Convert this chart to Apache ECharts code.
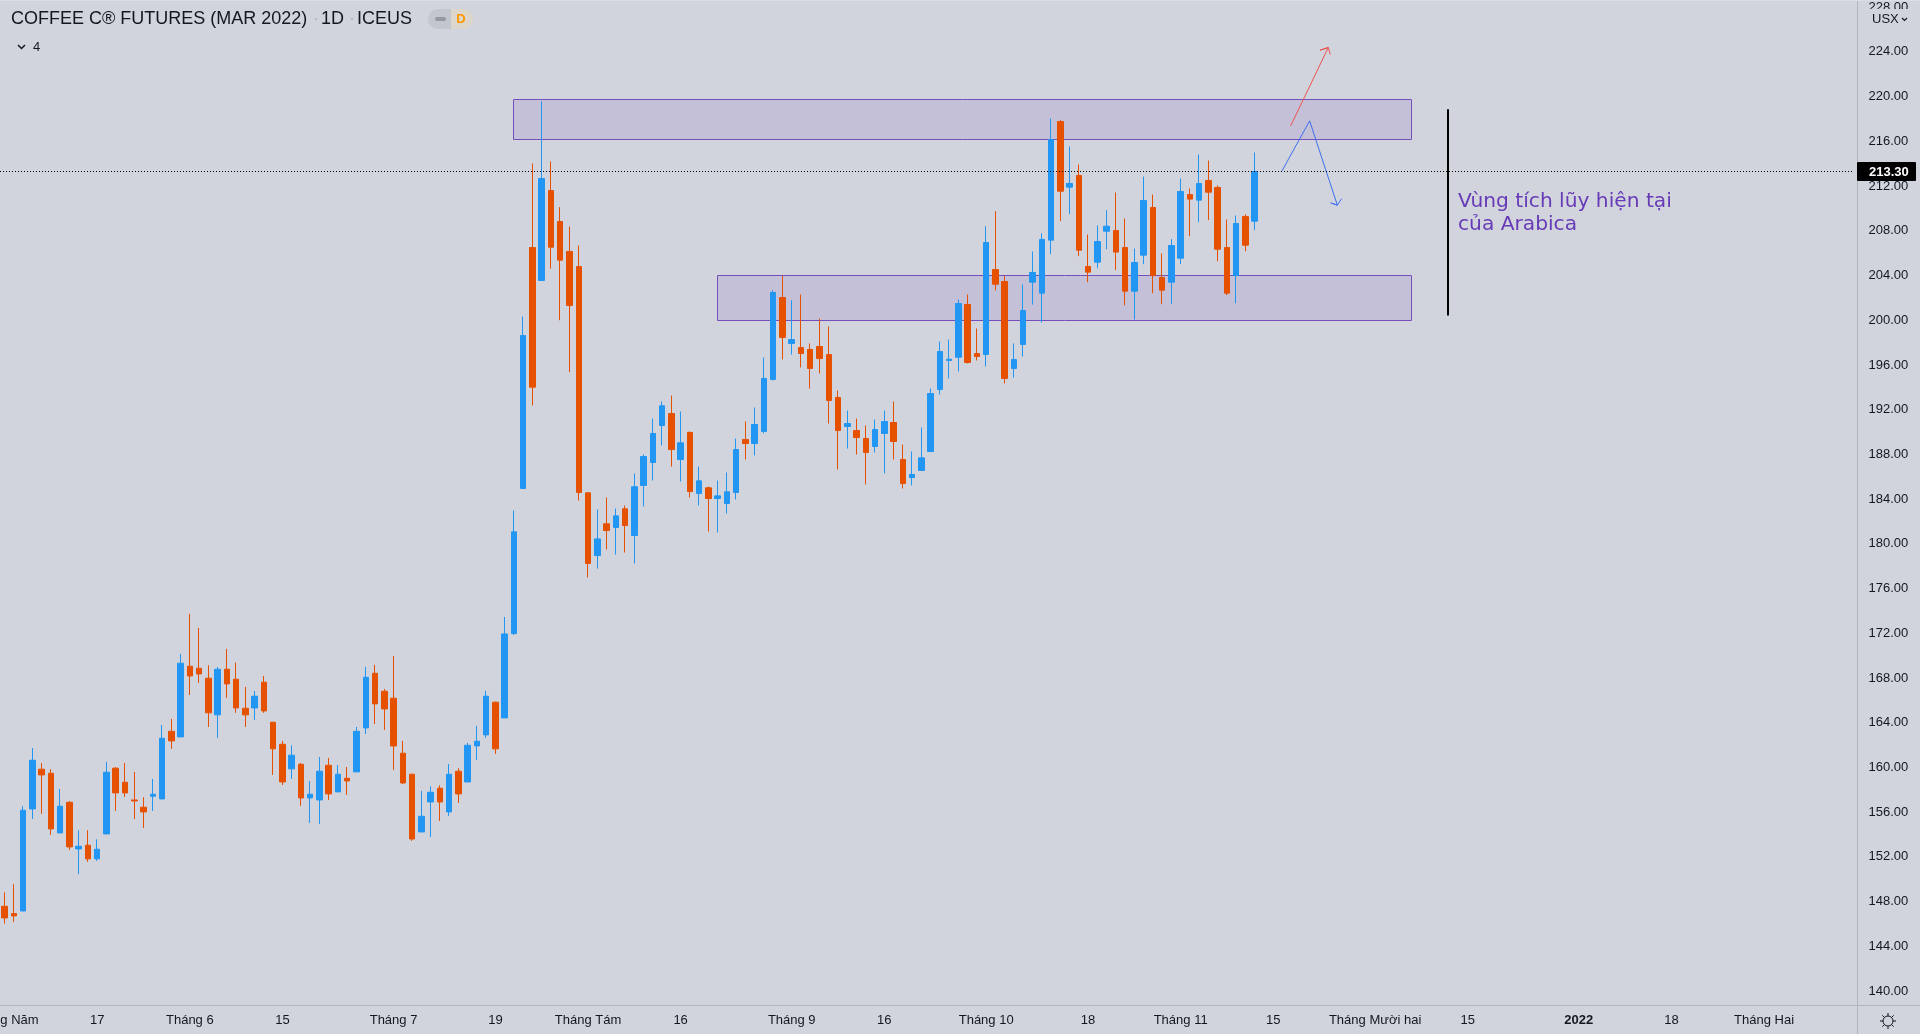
<!DOCTYPE html>
<html>
<head>
<meta charset="utf-8">
<title>Coffee C Futures</title>
<script src="https://cdn.jsdelivr.net/npm/echarts@6/dist/echarts.min.js"></script>
<style>html,body{margin:0;padding:0;background:#d1d4dc}#c{width:1920px;height:1034px}</style>
</head>
<body>
<div id="c"></div>
<script>
const opens = [147.58,146.93,147.16,156.29,159.84,159.48,154.14,156.88,152.71,153.04,
151.82,154.05,159.93,158.67,157.09,156.44,157.42,157.18,163.23,162.73,
169.05,168.87,167.98,164.70,168.78,167.89,165.29,165.32,167.62,164.04,
162.07,159.87,160.28,157.27,157.09,160.19,157.81,159.03,159.60,163.53,
168.42,166.81,166.19,161.27,159.39,154.23,156.91,158.14,156.02,159.66,
158.70,161.92,162.91,165.83,164.43,171.97,184.95,206.50,203.55,211.60,
208.83,206.15,204.80,184.56,178.95,181.79,181.46,183.13,180.74,185.22,
187.27,190.58,191.65,187.54,189.96,184.50,185.01,184.05,183.60,184.59,
189.33,188.97,190.05,194.70,202.03,197.92,197.56,197.38,197.65,196.93,
193.09,190.49,190.13,189.42,188.70,189.87,190.85,187.54,185.93,186.56,
188.26,193.80,196.40,196.69,201.40,197.02,196.93,204.53,203.46,195.68,
197.83,203.40,202.42,207.16,217.77,211.90,212.94,204.80,205.19,207.96,
208.02,206.50,202.60,205.82,210.08,203.82,203.40,205.55,211.24,210.74,
212.50,211.87,206.50,203.99,209.28,208.86];
const closes = [146.54,146.72,156.17,160.64,159.33,154.50,156.53,152.89,152.95,151.82,
152.68,159.57,157.72,157.72,157.00,156.02,157.60,162.61,162.37,169.32,
168.18,168.36,164.88,168.78,167.47,165.32,164.70,166.37,165.05,161.66,
158.70,161.09,157.27,157.60,159.66,157.63,159.39,158.79,163.23,168.06,
165.68,165.23,161.92,158.61,153.60,155.63,157.78,156.91,159.39,157.63,
161.98,162.34,166.37,161.66,171.94,181.07,198.63,194.01,212.67,206.53,
205.37,201.31,184.59,178.24,180.44,181.19,182.50,181.64,185.10,187.81,
189.87,192.34,188.43,189.03,184.68,185.63,184.05,184.29,184.65,188.43,
188.97,190.67,194.79,202.48,198.45,198.27,197.02,195.68,196.57,192.82,
190.13,190.76,189.51,188.17,190.22,190.94,189.15,185.39,186.20,187.69,
193.44,197.20,196.51,201.49,196.22,196.75,206.95,203.22,194.79,196.48,
200.87,204.27,207.22,216.16,211.54,212.23,206.26,204.30,207.04,208.41,
206.09,202.60,205.16,210.71,203.99,202.69,206.68,211.51,210.83,212.23,
211.45,206.35,202.42,208.65,206.71,213.30];
const lows = [146.03,146.18,147.16,155.39,155.84,153.96,154.14,152.62,150.47,151.55,
151.64,154.05,156.11,157.36,155.39,154.59,156.11,157.18,161.66,162.73,
166.48,167.56,163.62,162.64,166.22,164.88,163.62,164.25,164.88,159.33,
158.43,158.97,156.56,155.04,154.95,157.09,157.81,157.54,159.60,162.99,
163.89,163.35,159.78,158.52,153.43,154.23,153.78,155.21,155.66,156.82,
158.70,160.67,162.64,161.21,164.43,171.85,184.95,192.37,203.55,204.62,
200.00,195.35,183.87,176.99,177.79,179.49,179.04,179.22,178.24,183.34,
185.66,188.79,186.91,185.57,184.14,183.43,181.10,181.01,182.71,183.96,
187.54,187.90,189.87,194.61,196.49,196.93,195.77,193.89,195.23,190.76,
186.65,188.52,187.99,185.31,188.17,186.29,187.54,184.95,185.22,186.56,
188.26,193.35,194.79,195.41,196.13,196.40,195.86,202.66,194.34,194.87,
196.75,201.40,199.79,205.91,208.86,209.48,205.73,203.40,204.65,206.35,
204.48,201.34,200.06,205.01,202.42,201.43,201.43,205.01,207.52,208.77,
208.95,205.28,202.24,201.52,206.17,208.05];
const highs = [148.83,149.55,156.53,161.74,160.40,159.84,158.08,156.98,154.38,154.38,
153.57,160.49,160.04,160.40,159.60,157.33,158.97,163.80,164.34,170.15,
173.73,172.48,169.14,168.99,170.60,169.38,167.20,166.84,168.18,164.07,
162.37,161.98,160.40,158.79,160.94,160.85,160.22,160.04,163.62,168.99,
169.17,167.02,169.97,162.37,159.42,157.90,158.31,158.40,160.31,159.93,
162.19,163.71,166.84,165.89,173.46,182.98,200.33,214.02,219.59,214.20,
210.11,208.38,206.68,184.59,183.07,184.14,183.16,183.43,186.29,187.99,
191.21,192.73,193.26,191.83,190.05,186.91,185.13,185.66,186.38,189.42,
190.94,192.19,196.66,202.69,203.97,201.79,202.30,197.92,200.15,199.44,
193.71,191.92,191.21,190.58,191.12,191.92,192.73,188.88,188.26,190.40,
193.89,198.09,198.27,201.85,202.30,199.26,208.41,209.75,203.97,197.92,
203.19,206.15,207.76,218.04,217.89,215.54,213.93,207.67,208.47,209.84,
211.42,209.10,206.41,212.85,211.24,205.97,207.25,212.67,211.78,214.82,
214.28,212.05,209.01,209.37,209.46,215.00];

const barSlots = 200;
const xTickIndex = [0,10,20,30,42,53,63,73,85,95,106,117,127,137,148,158,170,180,190];
const xTickLabels = ['Tháng Năm','17','Tháng 6','15','Tháng 7','19','Tháng Tám','16','Tháng 9','16','Tháng 10','18','Tháng 11','15','Tháng Mười hai','15','2022','18','Tháng Hai'];
const yTicks = [140,144,148,152,156,160,164,168,172,176,180,184,188,192,196,200,204,208,212,216,220,224,228];
const lastPrice = 213.30;

// Drawn annotations, in [bar index, price]
const zones = [[54.93,151.95,219.75,216.2],[76.96,151.95,204.03,200.0]];
const redArrow = [[138.88,217.38],[142.94,224.39],[142.05,224.15],[142.94,224.39],[143.16,223.76]];
const blueArrow = [[137.94,213.35],[140.93,217.83],[143.92,210.29],[143.21,210.49],[143.92,210.29],[144.39,210.88]];
const rangeLine = [[155.87,218.87],[155.87,200.42]];
const priceLine = [[-0.5,lastPrice],[199.8,lastPrice]];

const BG='#d1d4dc', INK='#131722', GRID='#b2b5be', UP='#2196f3', DOWN='#e65100', PURPLE='#673ab7';
const categories = Array.from({length:barSlots},(_,i)=>String(i));
const candles = opens.map((o,i)=>[o,closes[i],lows[i],highs[i]]);
const tickAt = {}; xTickIndex.forEach((t,i)=>tickAt[t]=xTickLabels[i]);

const chart = echarts.init(document.getElementById('c'),null,{renderer:'canvas'});
const font13 = '13px "Liberation Sans", Arial, sans-serif';
const head = '18px "Liberation Sans", Arial, sans-serif';
const gearC=[1888,1021];
const spokes=[0,1,2,3,4,5,6,7].map(k=>{const a=k*Math.PI/4;return {type:'line',silent:true,shape:{x1:gearC[0]+5*Math.cos(a),y1:gearC[1]+5*Math.sin(a),x2:gearC[0]+8*Math.cos(a),y2:gearC[1]+8*Math.sin(a)},style:{stroke:INK,lineWidth:1},z:20};});

const option = {
  animation:false,
  backgroundColor:BG,
  title:{text:'COFFEE C® FUTURES (MAR 2022)',left:11,top:10,padding:0,textStyle:{color:INK,fontSize:18,fontWeight:'normal',fontFamily:'"Liberation Sans", Arial, sans-serif'}},
  grid:{left:0,top:0,width:1852,height:1005,containLabel:false,outerBoundsMode:'none'},
  xAxis:[
    {type:'category',data:categories,boundaryGap:true,axisLine:{show:false},axisTick:{show:false},splitLine:{show:false},
     axisLabel:{interval:(i)=>tickAt[i]!==undefined,hideOverlap:false,showMinLabel:true,margin:9,color:INK,fontSize:13,fontFamily:'"Liberation Sans", Arial, sans-serif',
       formatter:(v,i)=>{const t=tickAt[i];return t==='2022'?'{b|2022}':(t||'');},
       rich:{b:{fontWeight:'bold',fontSize:13,color:INK,fontFamily:'"Liberation Sans", Arial, sans-serif'}}}},
    {type:'value',min:-0.5,max:199.5,show:false}
  ],
  yAxis:{type:'value',position:'right',offset:5.5,min:138.75,max:228.64,scale:true,
    axisLine:{show:false},axisTick:{show:false},splitLine:{show:false},
    axisLabel:{customValues:yTicks,margin:11,color:INK,fontSize:13,fontFamily:'"Liberation Sans", Arial, sans-serif',formatter:(v)=>v.toFixed(2)}},
  series:[
    {type:'custom',name:'Zones',xAxisIndex:1,yAxisIndex:0,z:1,silent:true,clip:false,data:zones,encode:{x:[0,1],y:[2,3]},
     renderItem:(p,api)=>{const a=api.coord([api.value(0),api.value(2)]),b=api.coord([api.value(1),api.value(3)]);
       return {type:'rect',shape:{x:Math.round(a[0])+.5,y:Math.round(a[1])+.5,width:Math.round(b[0]-a[0]),height:Math.round(b[1]-a[1])},style:{fill:'rgba(103,58,183,0.13)',stroke:'#7550bd',lineWidth:1}};}},
    {type:'candlestick',name:'Coffee C',xAxisIndex:0,yAxisIndex:0,z:2,data:candles,barWidth:6,
     itemStyle:{color:UP,color0:DOWN,borderColor:UP,borderColor0:DOWN,borderColorDoji:UP,borderWidth:1}},
    {type:'line',name:'Red arrow',xAxisIndex:1,yAxisIndex:0,z:3,silent:true,data:redArrow,symbol:'none',lineStyle:{color:'#ef5350',width:1}},
    {type:'line',name:'Blue arrow',xAxisIndex:1,yAxisIndex:0,z:3,silent:true,data:blueArrow,symbol:'none',lineStyle:{color:'#3d6ff0',width:1}},
    {type:'line',name:'Range',xAxisIndex:1,yAxisIndex:0,z:3,silent:true,data:rangeLine,symbol:'none',lineStyle:{color:'#000',width:2}},
    {type:'line',name:'Last price',xAxisIndex:1,yAxisIndex:0,z:4,silent:true,data:priceLine,symbol:'none',lineStyle:{color:'#000',width:1,type:[1,2]}}
  ],
  graphic:[
    {type:'line',silent:true,shape:{x1:0,y1:1005.5,x2:1920,y2:1005.5},style:{stroke:GRID,lineWidth:1},z:10},
    {type:'line',silent:true,shape:{x1:1857.5,y1:0,x2:1857.5,y2:1034},style:{stroke:GRID,lineWidth:1},z:10},
    {type:'line',silent:true,shape:{x1:0,y1:0.5,x2:1920,y2:0.5},style:{stroke:'#dadde4',lineWidth:1},z:10},
    {type:'text',silent:true,x:313,y:10,style:{text:'·',font:head,fill:GRID},z:20},
    {type:'text',silent:true,x:321,y:10,style:{text:'1D',font:head,fill:INK},z:20},
    {type:'text',silent:true,x:349,y:10,style:{text:'·',font:head,fill:GRID},z:20},
    {type:'text',silent:true,x:357,y:10,style:{text:'ICEUS',font:head,fill:INK},z:20},
    {type:'rect',silent:true,shape:{x:428,y:9,width:23,height:20,r:[10,0,0,10]},style:{fill:'#c3c6ce'},z:20},
    {type:'rect',silent:true,shape:{x:451,y:9,width:22,height:20,r:[0,10,10,0]},style:{fill:'#ddd6cc'},z:20},
    {type:'rect',silent:true,shape:{x:435,y:17,width:11,height:4,r:2},style:{fill:'#9598a1'},z:21},
    {type:'text',silent:true,x:461,y:19,style:{text:'D',font:'bold 13px "Liberation Sans", Arial, sans-serif',fill:'#ff9800',align:'center',verticalAlign:'middle'},z:21},
    {type:'polyline',silent:true,shape:{points:[[18,45],[21.5,48.5],[25,45]]},style:{stroke:INK,lineWidth:1.5,fill:null},z:20},
    {type:'text',silent:true,x:33,y:47,style:{text:'4',font:font13,fill:INK,verticalAlign:'middle'},z:20},
    {type:'rect',silent:true,shape:{x:1858,y:9,width:62,height:21},style:{fill:BG},z:15},
    {type:'text',silent:true,x:1872,y:19.5,style:{text:'USX',font:font13,fill:INK,verticalAlign:'middle'},z:20},
    {type:'polyline',silent:true,shape:{points:[[1902,18],[1904.5,20.5],[1907,18]]},style:{stroke:INK,lineWidth:1.2,fill:null},z:20},
    {type:'rect',silent:true,shape:{x:1857,y:162,width:59,height:19,r:1},style:{fill:'#000'},z:20},
    {type:'text',silent:true,x:1869,y:172,style:{text:lastPrice.toFixed(2),font:'bold 13px "Liberation Sans", Arial, sans-serif',fill:'#fff',verticalAlign:'middle'},z:21},
    {type:'text',silent:true,x:1458,y:190,style:{text:'Vùng tích lũy hiện tại\ncủa Arabica',font:'20.2px "DejaVu Sans", Verdana, sans-serif',lineHeight:23.5,fill:PURPLE},z:20},
    {type:'circle',silent:true,shape:{cx:gearC[0],cy:gearC[1],r:5},style:{stroke:INK,lineWidth:1,fill:null},z:20}
  ].concat(spokes)
};
chart.setOption(option);
</script>
</body>
</html>
